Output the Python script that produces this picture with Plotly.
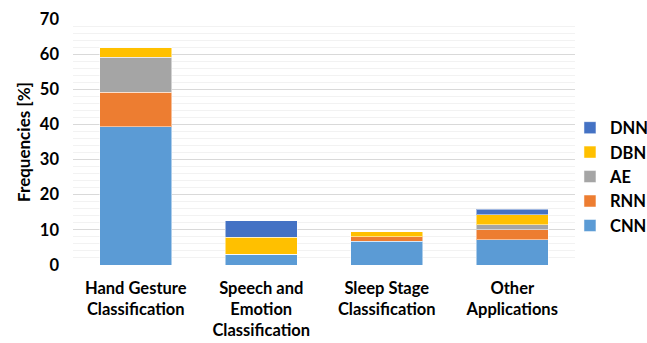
import plotly.graph_objects as go

categories = [
    "Hand Gesture<br>Classification",
    "Speech and<br>Emotion<br>Classification",
    "Sleep Stage<br>Classification",
    "Other<br>Applications",
]
cnn = [39.4, 3.1, 6.8, 7.2]
rnn = [9.8, 0.0, 1.3, 2.9]
ae = [9.9, 0.0, 0.0, 1.3]
dbn = [2.7, 4.8, 1.4, 2.9]
dnn = [0.0, 4.7, 0.0, 1.6]
y_ticks = [0, 10, 20, 30, 40, 50, 60, 70]

series = [
    ("CNN", cnn, "#5B9BD5"),
    ("RNN", rnn, "#ED7D31"),
    ("AE", ae, "#A5A5A5"),
    ("DBN", dbn, "#FFC000"),
    ("DNN", dnn, "#4472C4"),
]

font_family = "Lato, 'Open Sans', sans-serif"

fig = go.Figure()
for name, vals, color in series:
    fig.add_trace(go.Bar(
        name=name, x=categories, y=vals,
        marker=dict(color=color, line=dict(color="rgba(255,255,255,0.5)", width=1)),
        width=0.57,
    ))

fig.update_layout(
    barmode="stack",
    width=647, height=343,
    margin=dict(l=73, r=72, t=19, b=78, autoexpand=False),
    paper_bgcolor="white", plot_bgcolor="white",
    font=dict(family=font_family, size=16, color="#000000"),
    legend=dict(
        traceorder="reversed",
        x=0.99, xanchor="left", y=0.358, yanchor="middle",
        bgcolor="rgba(0,0,0,0)",
        font=dict(family=font_family, size=16.5, color="#000000", weight="bold"),
        itemwidth=30, tracegroupgap=0,
    ),
    xaxis=dict(
        showgrid=False, showline=False, ticks="", ticklabelstandoff=11,
        tickfont=dict(family=font_family, size=16.5, color="#000000", weight="bold"),
    ),
    yaxis=dict(
        range=[0, 70], tickvals=y_ticks, showgrid=True, gridcolor="#D9D9D9",
        gridwidth=1, zeroline=False, showline=False, ticklabelstandoff=13,
        minor=dict(dtick=2, showgrid=True, gridcolor="#F2F2F2", gridwidth=1),
        tickfont=dict(family=font_family, size=16.5, color="#000000", weight="bold"),
        title=dict(text="Frequencies [%]", standoff=4,
                   font=dict(family=font_family, size=17, color="#000000", weight="bold")),
    ),
)

fig.write_html("out.html")
